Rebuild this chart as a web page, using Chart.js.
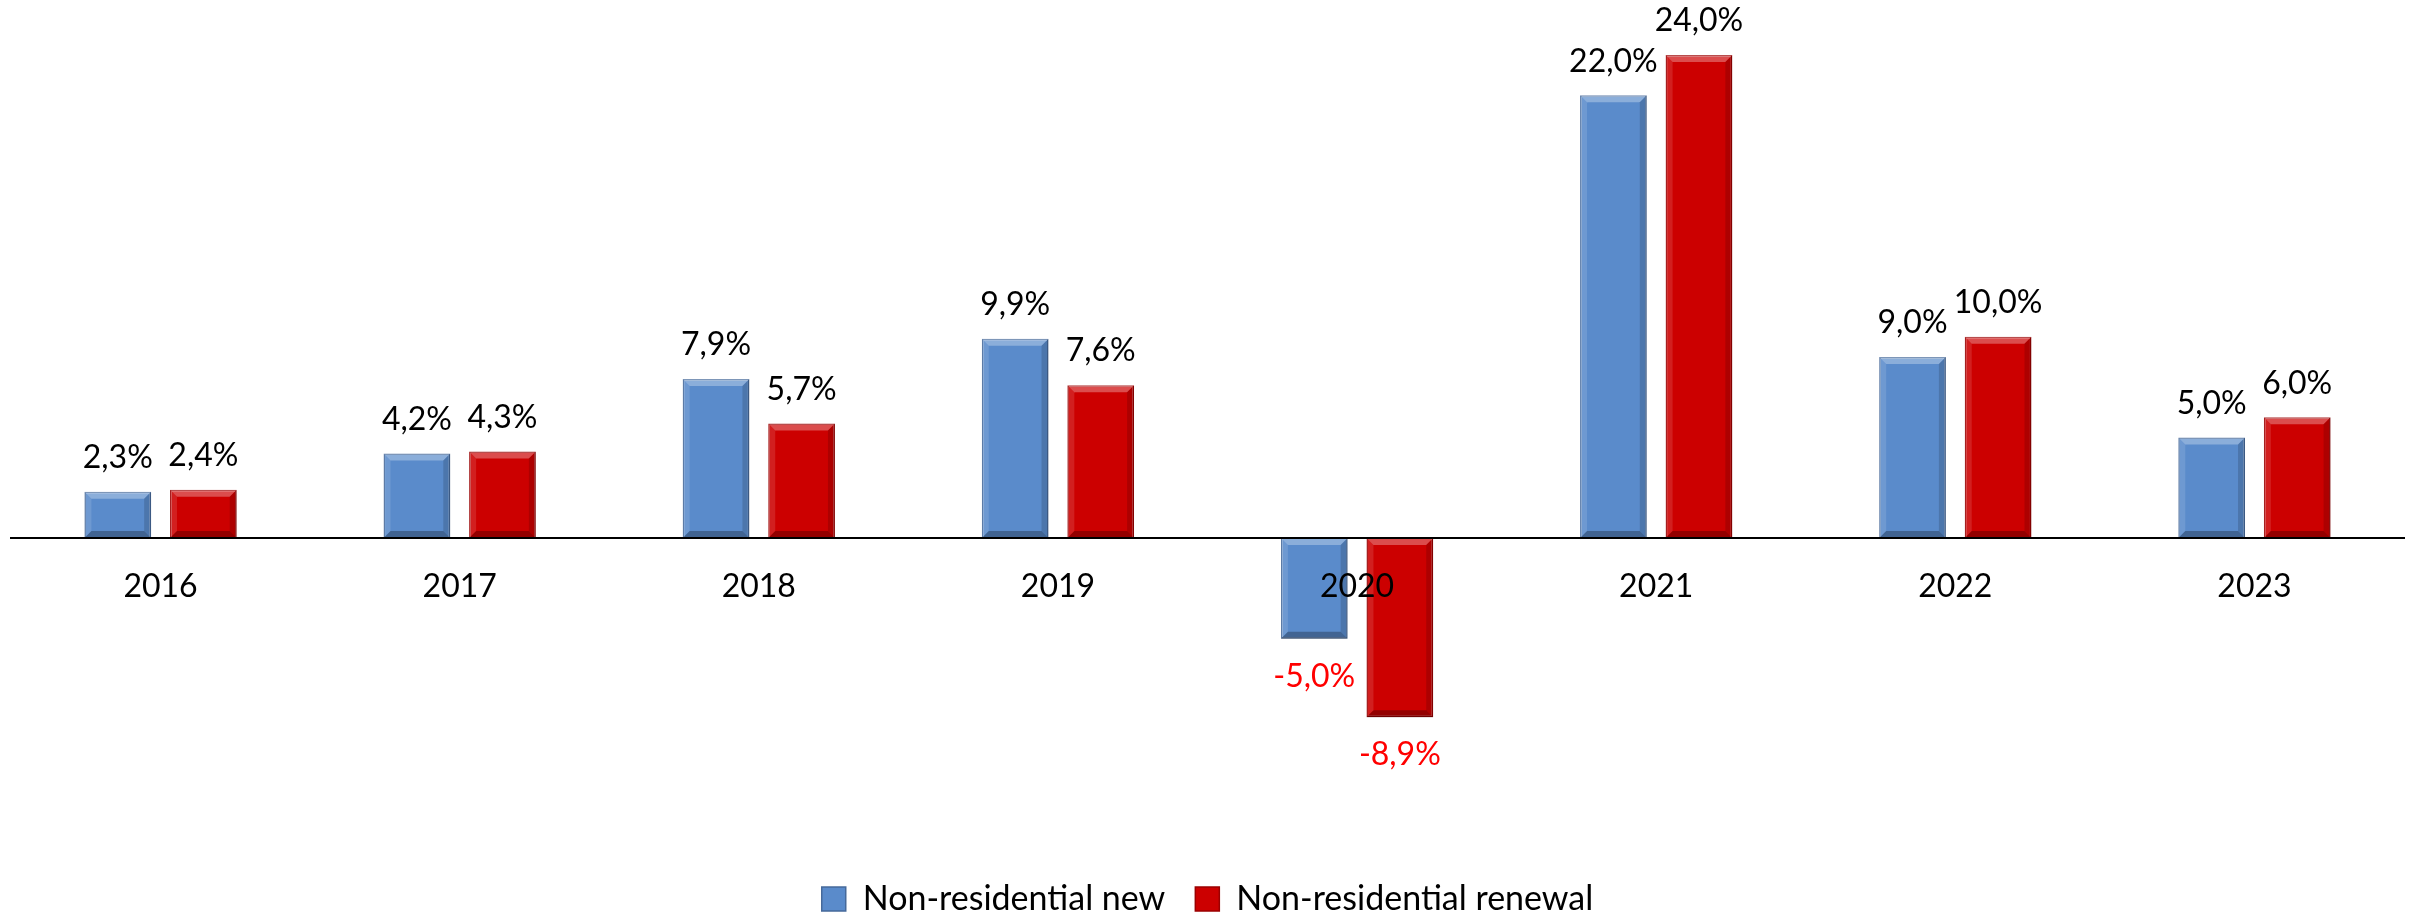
<!DOCTYPE html>
<html>
<head>
<meta charset="utf-8">
<script src="https://cdn.jsdelivr.net/npm/chart.js@4/dist/chart.umd.min.js"></script>
<style>
    html, body { margin: 0; padding: 0; background: #fff; }
    #wrap { width: 2415px; height: 914px; }
</style>
</head>
<body>
<div id="wrap"><canvas id="nonResChart"></canvas></div>
<script>
const years = ['2016', '2017', '2018', '2019', '2020', '2021', '2022', '2023'];
const nonResNew = [2.3, 4.2, 7.9, 9.9, -5.0, 22.0, 9.0, 5.0];
const nonResRenewal = [2.4, 4.3, 5.7, 7.6, -8.9, 24.0, 10.0, 6.0];
const seriesNames = ['Non-residential new', 'Non-residential renewal'];

const FONT = 'Lato, "Open Sans", sans-serif';

function fmtPct(v) {
    return v.toFixed(1).replace('.', ',') + '%';
}

// bevel look like the office 3d bars
const bevelPlugin = {
    id: 'bevel',
    afterDatasetsDraw(chart) {
        const ctx = chart.ctx;
        chart.data.datasets.forEach((ds, i) => {
            const meta = chart.getDatasetMeta(i);
            meta.data.forEach((bar) => {
                const p = bar.getProps(['x', 'y', 'base', 'width'], true);
                const l = p.x - p.width / 2;
                const r = p.x + p.width / 2;
                const t = Math.min(p.y, p.base);
                const b = Math.max(p.y, p.base);
                const d = Math.min(7, (b - t) / 2);
                ctx.save();
                // top
                ctx.fillStyle = 'rgba(255,255,255,0.30)';
                ctx.beginPath();
                ctx.moveTo(l, t); ctx.lineTo(r, t); ctx.lineTo(r - d, t + d); ctx.lineTo(l + d, t + d);
                ctx.closePath(); ctx.fill();
                // left
                ctx.fillStyle = 'rgba(255,255,255,0.12)';
                ctx.beginPath();
                ctx.moveTo(l, t); ctx.lineTo(l + d, t + d); ctx.lineTo(l + d, b - d); ctx.lineTo(l, b);
                ctx.closePath(); ctx.fill();
                // right
                ctx.fillStyle = 'rgba(0,0,0,0.15)';
                ctx.beginPath();
                ctx.moveTo(r, t); ctx.lineTo(r - d, t + d); ctx.lineTo(r - d, b - d); ctx.lineTo(r, b);
                ctx.closePath(); ctx.fill();
                // bottom
                ctx.fillStyle = 'rgba(0,0,0,0.28)';
                ctx.beginPath();
                ctx.moveTo(l, b); ctx.lineTo(r, b); ctx.lineTo(r - d, b - d); ctx.lineTo(l + d, b - d);
                ctx.closePath(); ctx.fill();
                ctx.restore();
            });
        });
    },
};

const valueLabels = {
    id: 'valueLabels',
    afterDatasetsDraw(chart) {
        const ctx = chart.ctx;
        ctx.save();
        ctx.font = '32px ' + FONT;
        ctx.textAlign = 'center';
        ctx.textBaseline = 'middle';
        chart.data.datasets.forEach((ds, i) => {
            const meta = chart.getDatasetMeta(i);
            meta.data.forEach((bar, j) => {
                const v = ds.data[j];
                if (v >= 0) {
                    ctx.fillStyle = '#000000';
                    ctx.fillText(fmtPct(v), bar.x, bar.y - 34);
                } else {
                    ctx.fillStyle = '#FF0000';
                    ctx.fillText(fmtPct(v), bar.x, bar.y + 38);
                }
            });
        });
        ctx.restore();
    },
};

new Chart(document.getElementById('nonResChart').getContext('2d'), {
    type: 'bar',
    data: {
        labels: years,
        datasets: [
            {
                label: seriesNames[0],
                data: nonResNew,
                backgroundColor: '#5A8BCB',
                borderColor: '#46699A',
                borderWidth: 1.5,
                categoryPercentage: 0.572,
                barPercentage: 0.78,
            },
            {
                label: seriesNames[1],
                data: nonResRenewal,
                backgroundColor: '#CC0000',
                borderColor: '#9A0000',
                borderWidth: 1.5,
                categoryPercentage: 0.572,
                barPercentage: 0.78,
            },
        ],
    },
    options: {
        responsive: true,
        maintainAspectRatio: false,
        animation: false,
        layout: { padding: { top: 35, left: 11, right: 11, bottom: -12 } },
        plugins: {
            legend: {
                position: 'bottom',
                labels: {
                    font: { family: FONT, size: 34 },
                    color: '#000',
                    boxWidth: 24,
                    boxHeight: 24,
                    padding: 30,
                },
            },
            tooltip: { enabled: false },
        },
        scales: {
            x: {
                position: { y: 0 },
                grid: { display: false, drawTicks: false },
                border: { display: true, color: '#000', width: 2, z: 1 },
                ticks: { font: { family: FONT, size: 32 }, color: '#000', padding: 29, z: 1 },
            },
            y: {
                display: false,
                min: -15.6,
                max: 25,
            },
        },
    },
    plugins: [bevelPlugin, valueLabels],
});
</script>
</body>
</html>
